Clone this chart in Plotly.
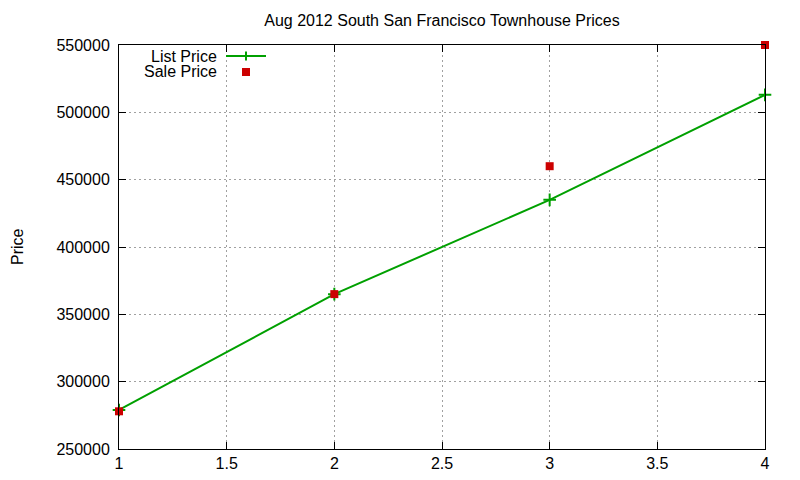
import plotly.graph_objects as go

x_vals = [1, 2, 3, 4]
list_price = [279000, 365000, 435000, 513000]
sale_price = [278000, 365000, 460000, 550000]
x_ticks = [1, 1.5, 2, 2.5, 3, 3.5, 4]
x_tick_text = ["1", "1.5", "2", "2.5", "3", "3.5", "4"]
y_ticks = [250000, 300000, 350000, 400000, 450000, 500000, 550000]

GREEN = "#00a000"
RED = "#cc0000"
FONT = "Liberation Sans, Arial, sans-serif"

# page body has an 8px margin, so the figure is offset by 8px
OFF = 8
W, H = 784, 464
L, R, T, B = 119 - OFF, 27, 45 - OFF, 23
PW, PH = W - L - R, H - T - B

def px(xr):
    return (xr - OFF - L) / PW

def py(yr):
    return (T + PH - (yr - OFF)) / PH

fig = go.Figure()
fig.add_trace(go.Scatter(
    x=x_vals, y=list_price, mode="lines+markers", name="List Price",
    line=dict(color=GREEN, width=2),
    marker=dict(symbol="cross-thin", size=9, line=dict(color=GREEN, width=2)),
    cliponaxis=False, showlegend=False))
fig.add_trace(go.Scatter(
    x=x_vals, y=sale_price, mode="markers", name="Sale Price",
    marker=dict(symbol="square", size=8, color=RED),
    cliponaxis=False, showlegend=False))

ann = [
    dict(x=px(218), y=py(56), xref="paper", yref="paper", text="List Price",
         showarrow=False, xanchor="right", yanchor="middle", borderpad=0,
         height=15, font=dict(family=FONT, size=16, color="black")),
    dict(x=px(218), y=py(71.5), xref="paper", yref="paper", text="Sale Price",
         showarrow=False, xanchor="right", yanchor="middle", borderpad=0,
         height=15, font=dict(family=FONT, size=16, color="black")),
    dict(x=px(17), y=py(247), xref="paper", yref="paper", text="Price",
         showarrow=False, textangle=-90, xanchor="center", yanchor="middle",
         font=dict(family=FONT, size=16, color="black")),
]
shapes = [
    dict(type="line", xref="paper", yref="paper", x0=px(226), x1=px(266),
         y0=py(56), y1=py(56), line=dict(color=GREEN, width=2)),
    dict(type="line", xref="paper", yref="paper", x0=px(246), x1=px(246),
         y0=py(51.5), y1=py(60.5), line=dict(color=GREEN, width=2)),
    dict(type="rect", xref="paper", yref="paper", x0=px(242), x1=px(250),
         y0=py(68), y1=py(76), line=dict(width=0), fillcolor=RED),
]

axis_common = dict(
    showline=True, linecolor="black", linewidth=1, mirror="ticks",
    ticks="inside", ticklen=7, tickcolor="black", tickwidth=1,
    showgrid=True, gridcolor="#a0a0a0", griddash="2px,3px", gridwidth=1,
    zeroline=False, tickfont=dict(family=FONT, size=16, color="black"),
)

fig.update_layout(
    width=W, height=H,
    margin=dict(l=L, r=R, t=T, b=B, autoexpand=False),
    paper_bgcolor="white", plot_bgcolor="white",
    title=dict(text="Aug 2012 South San Francisco Townhouse Prices",
               xref="paper", x=0.5, xanchor="center",
               y=1 - (20 - OFF) / H, yanchor="middle",
               font=dict(family=FONT, size=16, color="black")),
    xaxis=dict(range=[1, 4], tickvals=x_ticks, ticktext=x_tick_text,
               ticklabelstandoff=0, **axis_common),
    yaxis=dict(range=[250000, 550000], tickvals=y_ticks,
               tickformat="d", ticklabelstandoff=5, **axis_common),
    annotations=ann, shapes=shapes, showlegend=False,
)

fig.write_html("out.html")
